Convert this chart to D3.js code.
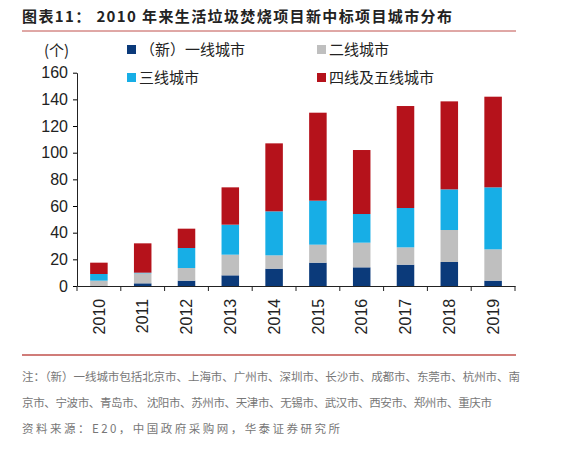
<!DOCTYPE html><html><head><meta charset="utf-8"><script src="https://cdn.jsdelivr.net/npm/d3@7"></script>
<style>body{margin:0;background:#fff}svg{font-family:"Liberation Sans",Arial,sans-serif}</style></head><body><svg id="c" width="585" height="464"></svg>
<script>
const years=["2010","2011","2012","2013","2014","2015","2016","2017","2018","2019"];
const tier1=[0,2,4,8,13,17.5,14,16,18,4];
const tier2=[4,7.5,9.5,15.5,10,13.5,18.5,13,24,23.5];
const tier3=[5,0.5,15,22.5,33,33,21.5,29.5,30.5,46.5];
const tier45=[8.5,22,14.5,28,51,66,48,76.5,66,68];
const seriesNames=["（新）一线城市","二线城市","三线城市","四线及五线城市"];
const colors=["#0b3a7a","#bfbfbf","#17aee6","#b5121b"];
const yTicks=[0,20,40,60,80,100,120,140,160];
const svg=d3.select("#c");
const cjk='"Noto Sans CJK SC",sans-serif';
const lib='"Liberation Sans",Arial,sans-serif';
svg.append("text").attr("x",22).attr("y",22).attr("font-family",cjk).attr("font-weight","bold").attr("font-size",15).attr("fill","#222").attr("textLength",430).text("图表11：  2010 年来生活垃圾焚烧项目新中标项目城市分布");
svg.append("line").attr("x1",22).attr("x2",516).attr("y1",31).attr("y2",31).attr("stroke","#c0504d").attr("stroke-width",1);
svg.append("line").attr("x1",22).attr("x2",516).attr("y1",355).attr("y2",355).attr("stroke","#c0504d").attr("stroke-width",1.5);
const x=d3.scaleBand().domain(years).range([77,515]).paddingInner(0.6).paddingOuter(0.3);
const y=d3.scaleLinear().domain([0,160]).range([286,72.7]);
const data=years.map((yr,i)=>({yr,t1:tier1[i],t2:tier2[i],t3:tier3[i],t4:tier45[i]}));
const stack=d3.stack().keys(["t1","t2","t3","t4"])(data);
stack.forEach((s,k)=>svg.append("g").selectAll("rect").data(s).join("rect")
 .attr("x",d=>x(d.data.yr)).attr("width",x.bandwidth()).attr("y",d=>y(d[1])).attr("height",d=>y(d[0])-y(d[1])).attr("fill",colors[k]));
const ya=svg.append("g").attr("transform","translate(77,0)").call(d3.axisLeft(y).tickValues(yTicks).tickSize(4).tickSizeOuter(0)).attr("font-family",lib);
ya.selectAll("text").attr("font-size",16).attr("fill","#222").attr("dx",-2);
const xa=svg.append("g").attr("transform","translate(0,286)").call(d3.axisBottom(x).tickSize(0).tickSizeOuter(0)).attr("font-family",lib);
xa.selectAll("text").attr("font-size",16).attr("fill","#222").attr("transform","rotate(-90)").attr("text-anchor","end").attr("dx","-0.8em").attr("dy","0.35em").attr("x",0).attr("y",0);
const step=x.step();
svg.append("g").selectAll("line").data(d3.range(11)).join("line").attr("x1",d=>77+d*step).attr("x2",d=>77+d*step).attr("y1",286).attr("y2",291).attr("stroke","#222");
ya.select(".domain").attr("stroke","#222");xa.select(".domain").attr("stroke","#222");
svg.append("text").attr("x",44).attr("y",56).attr("font-family",cjk).attr("font-size",15).attr("fill","#222").text("(个)");
const leg=[[127,50],[317,50],[127,78],[317,78]];
seriesNames.forEach((n,k)=>{svg.append("rect").attr("x",leg[k][0]).attr("y",leg[k][1]-5).attr("width",9).attr("height",9).attr("fill",colors[k]);
svg.append("text").attr("x",leg[k][0]+(k==0?13:12)).attr("y",leg[k][1]+5).attr("font-family",cjk).attr("font-size",15).attr("fill","#222").text(n);});
const notes=["注：（新）一线城市包括北京市、上海市、广州市、深圳市、长沙市、成都市、东莞市、杭州市、南","京市、宁波市、青岛市、 沈阳市、苏州市、天津市、无锡市、武汉市、西安市、郑州市、重庆市","资料来源：E20，中国政府采购网，华泰证券研究所"];
notes.forEach((t,i)=>svg.append("text").attr("x",22).attr("y",381+i*26).attr("font-family",cjk).attr("font-size",11.5).attr("fill","#777").attr("textLength",i<2?(i==0?498:470):318).text(t));
</script></body></html>
